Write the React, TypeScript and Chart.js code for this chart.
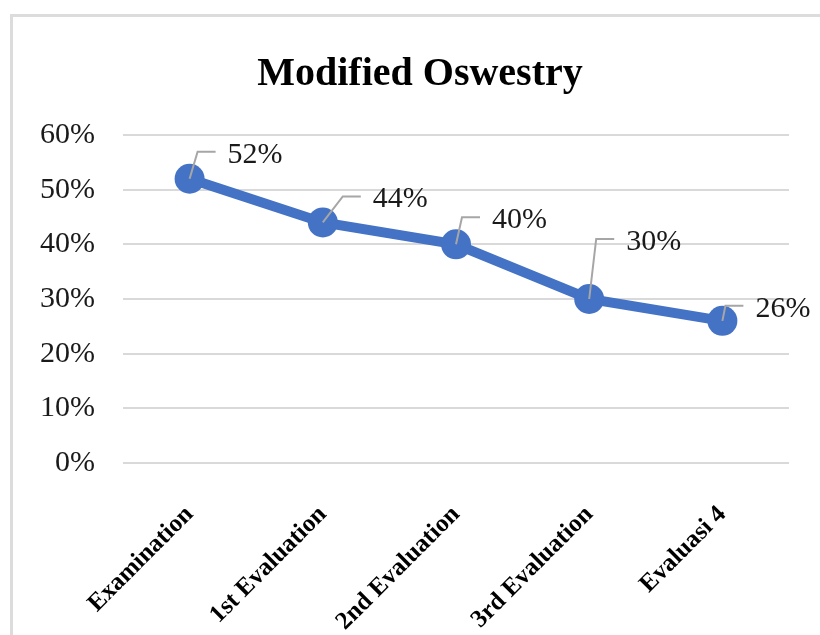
import React, { useEffect, useRef } from 'react';
import { Chart, registerables } from 'chart.js';

Chart.register(...registerables);

const TITLE = 'Modified Oswestry';
const CATEGORIES = ['Examination', '1st Evaluation', '2nd Evaluation', '3rd Evaluation', 'Evaluasi 4'];
const SCORES = [0.52, 0.44, 0.4, 0.3, 0.26];
const Y_MIN = 0;
const Y_MAX = 0.6;
const Y_STEP = 0.1;
// label placement relative to each point (dx to label's left edge, dy to label's middle)
const LABEL_OFFSETS = [
  [38, -24],
  [50, -23],
  [36, -24],
  [37, -57],
  [33, -12],
];

const SERIF = '"Liberation Serif", "Times New Roman", serif';
const BLUE = '#4472C4';

const pct = (v: number) => Math.round(v * 100) + '%';

const framePlugin = {
  id: 'frame',
  beforeDraw(chart: any) {
    const { ctx, width, height } = chart;
    ctx.save();
    ctx.fillStyle = '#ffffff';
    ctx.fillRect(0, 0, width, height);
    ctx.strokeStyle = '#dcdcdc';
    ctx.lineWidth = 3;
    ctx.beginPath();
    ctx.moveTo(11.5, height);
    ctx.lineTo(11.5, 15.5);
    ctx.lineTo(width, 15.5);
    ctx.stroke();
    // chart title, centred on the frame
    ctx.font = `bold 40px ${SERIF}`;
    ctx.fillStyle = '#000000';
    ctx.textAlign = 'center';
    ctx.textBaseline = 'middle';
    ctx.fillText(TITLE, (11 + width + 9) / 2, 75);
    ctx.restore();
  },
};

const calloutPlugin = {
  id: 'callouts',
  afterDatasetsDraw(chart: any) {
    const { ctx } = chart;
    const meta = chart.getDatasetMeta(0);
    const values = chart.data.datasets[0].data as number[];
    ctx.save();
    meta.data.forEach((pt: any, i: number) => {
      const [dx, dy] = LABEL_OFFSETS[i];
      const lx = pt.x + dx;
      const ly = pt.y + dy;
      ctx.strokeStyle = '#a6a6a6';
      ctx.lineWidth = 2;
      ctx.beginPath();
      ctx.moveTo(pt.x, pt.y);
      ctx.lineTo(lx - 30, ly - 3);
      ctx.lineTo(lx - 12, ly - 3);
      ctx.stroke();
      ctx.font = `30px ${SERIF}`;
      ctx.fillStyle = '#1a1a1a';
      ctx.textAlign = 'left';
      ctx.textBaseline = 'middle';
      ctx.fillText(pct(values[i]), lx, ly);
    });
    ctx.restore();
  },
};

export default function App() {
  const ref = useRef<HTMLCanvasElement | null>(null);

  useEffect(() => {
    if (!ref.current) return;
    const chart = new Chart(ref.current, {
      type: 'line',
      data: {
        labels: CATEGORIES,
        datasets: [
          {
            label: TITLE,
            data: SCORES,
            borderColor: BLUE,
            backgroundColor: BLUE,
            borderWidth: 10,
            pointRadius: 15,
            pointBackgroundColor: BLUE,
            pointBorderColor: BLUE,
            pointBorderWidth: 0,
            tension: 0,
            clip: false as any,
          },
        ],
      },
      options: {
        responsive: false,
        animation: false,
        devicePixelRatio: 1,
        layout: { padding: { top: 135, left: 0, right: 31, bottom: 0 } },
        plugins: {
          legend: { display: false },
          tooltip: { enabled: false },
          title: { display: false },
        },
        scales: {
          x: {
            offset: true,
            grid: { display: false },
            border: { display: false },
            ticks: {
              autoSkip: false,
              maxRotation: 45,
              minRotation: 45,
              padding: 29,
              labelOffset: 0,
              color: '#000000',
              font: { family: SERIF, size: 25, weight: 'bold' },
            },
            afterFit: (scale: any) => {
              scale.height = 172;
            },
          },
          y: {
            min: Y_MIN,
            max: Y_MAX,
            border: { display: false },
            grid: { color: '#d9d9d9', lineWidth: 2, drawTicks: false },
            ticks: {
              stepSize: Y_STEP,
              padding: 28,
              color: '#1a1a1a',
              font: { family: SERIF, size: 30 },
              callback: (v: any) => pct(Number(v)),
            },
            afterFit: (scale: any) => {
              scale.width = 123;
            },
          },
        },
      },
      plugins: [framePlugin, calloutPlugin],
    });
    return () => chart.destroy();
  }, []);

  return (
    <div style={{ position: 'absolute', left: 0, top: 0, width: 820, height: 635 }}>
      <canvas ref={ref} width={820} height={635} style={{ width: 820, height: 635, display: 'block' }} />
    </div>
  );
}
